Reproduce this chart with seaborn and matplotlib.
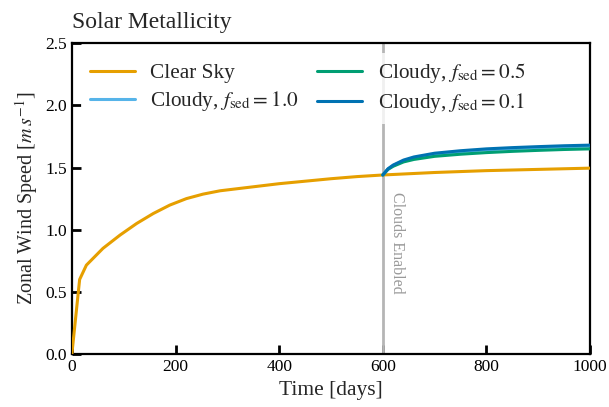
import matplotlib
matplotlib.use("Agg")
import matplotlib.pyplot as plt
import seaborn as sns
import pandas as pd

# ---- data ----
clear_t = [0, 15, 28, 60, 93, 125, 157, 189, 221, 253, 286, 350, 400, 450, 500, 550, 600,
           700, 800, 900, 1000]
clear_v = [0.0, 0.6, 0.715, 0.85, 0.957, 1.05, 1.13, 1.198, 1.25, 1.286, 1.313, 1.345, 1.37,
           1.39, 1.41, 1.427, 1.44, 1.46, 1.475, 1.485, 1.495]

cloud_t = [600, 610, 620, 640, 660, 700, 750, 800, 850, 900, 950, 1000]
fsed01_v = [1.44, 1.49, 1.52, 1.56, 1.585, 1.615, 1.635, 1.65, 1.66, 1.668, 1.675, 1.68]
fsed05_v = [1.44, 1.485, 1.51, 1.545, 1.565, 1.59, 1.607, 1.62, 1.63, 1.638, 1.645, 1.65]
fsed10_v = [1.44, 1.488, 1.516, 1.554, 1.578, 1.607, 1.627, 1.642, 1.652, 1.66, 1.667, 1.672]

labels = ["Clear Sky", r"Cloudy, $f_\mathrm{sed} = 1.0$",
          r"Cloudy, $f_\mathrm{sed} = 0.5$", r"Cloudy, $f_\mathrm{sed} = 0.1$"]
colors = ["#E69F00", "#56B4E9", "#009E73", "#0072B2"]

series = [(clear_t, clear_v), (cloud_t, fsed10_v), (cloud_t, fsed05_v), (cloud_t, fsed01_v)]
frames = []
for lab, (t, v) in zip(labels, series):
    frames.append(pd.DataFrame({"t": t, "v": v, "run": lab}))
df = pd.concat(frames, ignore_index=True)

sns.set_style("ticks")
plt.rcParams["font.family"] = ["Liberation Serif", "DejaVu Serif"]
plt.rcParams["mathtext.fontset"] = "stix"

fig = plt.figure(figsize=(6.09, 4.07), dpi=100)
ax = fig.add_axes([0.118, 0.130, 0.851, 0.764])

ax.axvline(600, color="#b5b5b5", lw=2, zorder=1)
ax.text(612, 1.3, "Clouds Enabled", rotation=270, ha="left", va="top",
        color="#999999", fontsize=11.5)

sns.lineplot(data=df, x="t", y="v", hue="run", hue_order=labels,
             palette=dict(zip(labels, colors)), lw=2.2, ax=ax, sort=False,
             estimator=None, zorder=3)

ax.set_xlim(0, 1000)
ax.set_ylim(0, 2.5)
ax.set_xticks([0, 200, 400, 600, 800, 1000])
ax.set_yticks([0.0, 0.5, 1.0, 1.5, 2.0, 2.5])
ax.set_xlabel("Time [days]", fontsize=15.5)
ax.set_ylabel(r"Zonal Wind Speed [$m\,s^{-1}$]", fontsize=14.5)
ax.set_title("Solar Metallicity", loc="left", fontsize=17, pad=11)

for s in ax.spines.values():
    s.set_linewidth(1.6)
    s.set_color("black")
ax.tick_params(direction="in", length=6.5, width=2, labelsize=12.5, colors="black")

leg = ax.legend(ncol=2, loc="upper left", fontsize=15.3, frameon=True, framealpha=0.8,
                edgecolor="none", facecolor="white", handlelength=2.1,
                handletextpad=0.75, columnspacing=0.85, borderaxespad=0.45,
                labelspacing=0.28)
for h in leg.get_lines():
    h.set_linewidth(2.2)

fig.savefig("out.png", dpi=100)
